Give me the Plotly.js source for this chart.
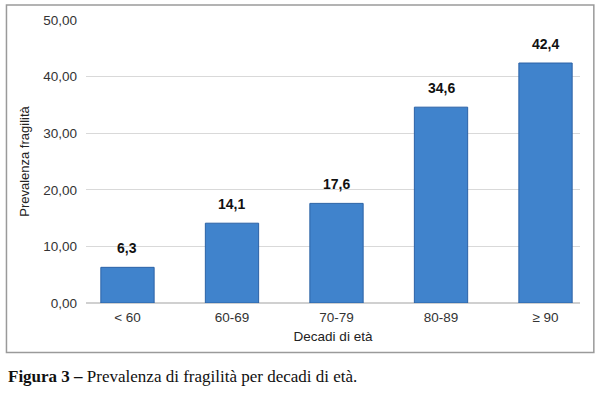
<!DOCTYPE html>
<html>
<head>
<meta charset="utf-8">
<script src="https://cdn.plot.ly/plotly-3.0.1.min.js"></script>
<style>html,body{margin:0;padding:0;background:#fff;}#chart{width:600px;height:393px;}</style>
</head>
<body>
<div id="chart"></div>
<script>
const categories = ['< 60', '60-69', '70-79', '80-89', '≥ 90'];
const prevalence = [6.3, 14.1, 17.6, 34.6, 42.4];
const valueLabels = ['6,3', '14,1', '17,6', '34,6', '42,4'];
const yTickVals = [0, 10, 20, 30, 40, 50];
const yTickText = ['0,00', '10,00', '20,00', '30,00', '40,00', '50,00'];

const trace = {
  type: 'bar',
  x: categories,
  y: prevalence,
  width: 0.51,
  marker: { color: '#4083CC', line: { color: '#2B62A6', width: 1 } },
  hoverinfo: 'none'
};

const labelAnnotations = categories.map((c, i) => ({
  x: c, y: prevalence[i], xref: 'x', yref: 'y',
  text: valueLabels[i], showarrow: false,
  yanchor: 'bottom', yshift: 9,
  font: { family: 'Liberation Sans, Arial, sans-serif', size: 14, color: '#111', weight: 'bold' }
}));

const layout = {
  width: 600, height: 393,
  margin: { l: 86, r: 20, t: 20, b: 90 },
  paper_bgcolor: '#fff', plot_bgcolor: '#fff',
  showlegend: false,
  bargap: 0.5,
  xaxis: {
    type: 'category',
    range: [-0.397, 4.33],
    showgrid: false, zeroline: false,
    showline: false,
    ticks: '', ticklabelstandoff: 4,
    tickfont: { family: 'Liberation Sans, Arial, sans-serif', size: 13.5, color: '#333' },
    title: { text: 'Decadi di età', standoff: 8,
      font: { family: 'Liberation Sans, Arial, sans-serif', size: 13.5, color: '#222' } }
  },
  yaxis: {
    range: [0, 50],
    tickvals: yTickVals, ticktext: yTickText,
    showgrid: true, gridcolor: '#d9d9d9', gridwidth: 1.3,
    zeroline: true, zerolinecolor: '#d0d0d0', zerolinewidth: 1.3,
    ticks: '', ticklabelstandoff: 8,
    tickfont: { family: 'Liberation Sans, Arial, sans-serif', size: 13.5, color: '#333' },
    title: { text: 'Prevalenza fragilità', standoff: 10,
      font: { family: 'Liberation Sans, Arial, sans-serif', size: 13, color: '#222' } }
  },
  shapes: [{
    type: 'rect', xref: 'paper', yref: 'paper',
    x0: -0.161, x1: 1.028, y0: -0.175, y1: 1.053,
    line: { color: '#9a9a9a', width: 1.5 }, fillcolor: 'rgba(0,0,0,0)', layer: 'below'
  }],
  annotations: labelAnnotations.concat([{
    xref: 'paper', yref: 'paper', x: -0.162, y: -0.26,
    xanchor: 'left', yanchor: 'middle', showarrow: false,
    text: '<b>Figura 3 –</b> Prevalenza di fragilità per decadi di età.',
    font: { family: 'Liberation Serif, Times New Roman, serif', size: 17, color: '#111' }
  }])
};

Plotly.newPlot('chart', [trace], layout, { displayModeBar: false, staticPlot: true });
</script>
</body>
</html>
